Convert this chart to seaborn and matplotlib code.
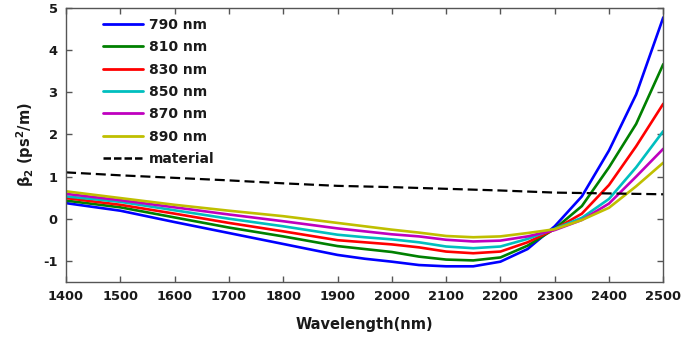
import matplotlib
matplotlib.use("Agg")
import matplotlib.pyplot as plt
import numpy as np
import pandas as pd
import seaborn as sns

# Wavelength grid (nm) for the pump-dependent dispersion curves
wavelength = [1400, 1500, 1600, 1700, 1800, 1900, 1950, 2000, 2050, 2100,
              2150, 2200, 2250, 2300, 2350, 2400, 2450, 2500]

# beta2 (ps^2/m) for each pump wavelength
beta_790 = [0.37, 0.19, -0.08, -0.34, -0.60, -0.86, -0.95, -1.02, -1.10, -1.13,
            -1.13, -1.02, -0.72, -0.18, 0.53, 1.62, 2.95, 4.78]
beta_810 = [0.43, 0.27, 0.03, -0.21, -0.42, -0.65, -0.72, -0.79, -0.90, -0.97,
            -0.99, -0.92, -0.64, -0.24, 0.30, 1.22, 2.25, 3.67]
beta_830 = [0.49, 0.33, 0.12, -0.10, -0.30, -0.51, -0.56, -0.61, -0.68, -0.78,
            -0.82, -0.78, -0.56, -0.25, 0.12, 0.80, 1.72, 2.73]
beta_850 = [0.53, 0.40, 0.20, 0.00, -0.18, -0.38, -0.44, -0.49, -0.56, -0.66,
            -0.70, -0.66, -0.48, -0.24, 0.02, 0.47, 1.22, 2.08]
beta_870 = [0.59, 0.44, 0.27, 0.10, -0.06, -0.23, -0.30, -0.37, -0.42, -0.50,
            -0.54, -0.52, -0.42, -0.27, -0.03, 0.36, 1.00, 1.66]
beta_890 = [0.65, 0.49, 0.33, 0.19, 0.06, -0.10, -0.18, -0.26, -0.33, -0.41,
            -0.44, -0.42, -0.34, -0.25, -0.03, 0.26, 0.77, 1.33]

# Bulk material dispersion
material_wl = [1400, 1500, 1600, 1700, 1800, 1900, 2000, 2100, 2200, 2300, 2400, 2500]
material_beta = [1.10, 1.03, 0.97, 0.91, 0.84, 0.78, 0.75, 0.71, 0.67, 0.62, 0.60, 0.58]

series_labels = ["790 nm", "810 nm", "830 nm", "850 nm", "870 nm", "890 nm"]
series_values = [beta_790, beta_810, beta_830, beta_850, beta_870, beta_890]
series_colors = ["#0000ff", "#008000", "#ff0000", "#00bfbf", "#bf00bf", "#bfbf00"]

x_ticks = [1400, 1500, 1600, 1700, 1800, 1900, 2000, 2100, 2200, 2300, 2400, 2500]
y_ticks = [-1, 0, 1, 2, 3, 4, 5]

df = pd.DataFrame({
    "wl": np.tile(wavelength, len(series_labels)),
    "beta": np.concatenate(series_values),
    "pump": np.repeat(series_labels, len(wavelength)),
})
df_mat = pd.DataFrame({"wl": material_wl, "beta": material_beta})

sns.set_style("ticks")
plt.rcParams["font.family"] = ["DejaVu Sans"]
plt.rcParams["font.weight"] = "bold"
plt.rcParams["axes.unicode_minus"] = False
plt.rcParams["mathtext.default"] = "regular"
plt.rcParams["axes.edgecolor"] = "#555555"
plt.rcParams["xtick.color"] = "#555555"
plt.rcParams["ytick.color"] = "#555555"
plt.rcParams["xtick.labelcolor"] = "#1a1a1a"
plt.rcParams["ytick.labelcolor"] = "#1a1a1a"

fig = plt.figure(figsize=(6.81, 3.38), dpi=100)
ax = fig.add_axes([0.097, 0.166, 0.877, 0.810])

material_dash = (0, (4.5, 2.2))
sns.lineplot(data=df, x="wl", y="beta", hue="pump", hue_order=series_labels,
             palette=series_colors, linewidth=1.9, ax=ax, legend=True)
sns.lineplot(data=df_mat, x="wl", y="beta", color="black", linewidth=1.6,
             linestyle=material_dash, ax=ax, label="material")

ax.set_xlim(1400, 2500)
ax.set_ylim(-1.5, 5)
ax.set_xticks(x_ticks)
ax.set_yticks(y_ticks)
ax.tick_params(direction="in", length=4, width=1, top=True, right=True,
               labelsize=9.4, pad=6)
for lbl in ax.get_xticklabels() + ax.get_yticklabels():
    lbl.set_fontweight("bold")
for sp in ax.spines.values():
    sp.set_visible(True)
    sp.set_linewidth(1.0)

ax.set_xlabel("Wavelength(nm)", fontsize=10.5, fontweight="bold", labelpad=10,
              color="#1a1a1a")
ax.set_ylabel(r"$\beta_2$ (ps$^2$/m)", fontsize=10.5, fontweight="bold", labelpad=5,
              color="#1a1a1a")

leg = ax.legend(loc="upper left", frameon=False, fontsize=10, handlelength=2.9,
                handletextpad=0.45, labelspacing=0.6, borderaxespad=0.3,
                bbox_to_anchor=(0.045, 1.0))
for t in leg.get_texts():
    t.set_fontweight("bold")
    t.set_color("#1a1a1a")
for h in leg.get_lines():
    h.set_linewidth(2.0)
leg.get_lines()[-1].set_linestyle((0, (3.0, 1.2)))
leg.get_lines()[-1].set_linewidth(1.8)

fig.savefig("out.png", dpi=100)
